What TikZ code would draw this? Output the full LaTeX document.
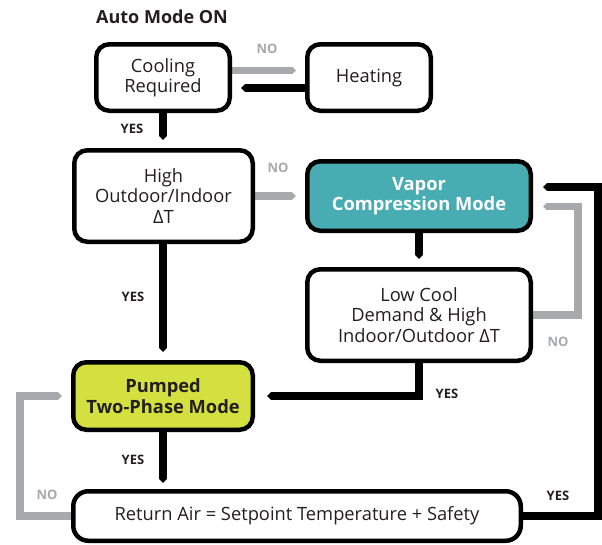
\documentclass[tikz,border=0pt]{standalone}
\usepackage{fontspec}
\setmainfont{Open Sans}
\usetikzlibrary{arrows.meta,backgrounds}
\definecolor{teal}{HTML}{47ADB3}
\definecolor{lime}{HTML}{D4E03F}
\definecolor{arrgray}{HTML}{A7A9AC}
\definecolor{txt}{HTML}{231F20}
\begin{document}
\begin{tikzpicture}[x=1pt,y=-1pt,
  box/.style={draw=black,line width=4.5pt,rounded corners=13pt,fill=white,
    align=center,text=txt,inner sep=0pt,font=\fontsize{18.3}{20.5}\selectfont},
  boldbox/.style={box,font=\fontsize{18.3}{20.5}\selectfont\bfseries},
  blackarrow/.style={line width=7.5pt,black,-{Triangle[length=4pt,width=7.5pt]}},
  grayarrow/.style={line width=7.5pt,arrgray,-{Triangle[length=4pt,width=7.5pt]}},
  lbl/.style={font=\fontsize{13}{15}\selectfont\bfseries,inner sep=0pt},
  yeslbl/.style={lbl,text=txt},
  nolbl/.style={lbl,text=arrgray}]
\useasboundingbox (0,0) rectangle (602,544);

\node[font=\fontsize{18}{21}\selectfont\bfseries,text=txt] (title) at (162,17) {Auto Mode ON};

\node[box,minimum width=133.5pt,minimum height=66.5pt] (cool) at (163,77.5) {Cooling\\Required};
\node[box,minimum width=123.5pt,minimum height=66.5pt] (heat) at (369,77.5) {Heating};
\node[box,minimum width=178.5pt,minimum height=91.5pt] (high) at (163.5,196) {High\\Outdoor/Indoor\\ΔT};
\node[boldbox,fill=teal,text=white,minimum width=223.5pt,minimum height=69.5pt] (vapor) at (419,196) {Vapor\\Compression Mode};
\node[box,minimum width=223.5pt,minimum height=91.5pt] (low) at (419,315) {Low Cool\\Demand \& High\\Indoor/Outdoor ΔT};
\node[boldbox,fill=lime,minimum width=179.5pt,minimum height=67.5pt] (pump) at (163,396) {Pumped\\Two-Phase Mode};
\node[box,rounded corners=15pt,minimum width=447.5pt,minimum height=49.5pt] (ret) at (297,516) {Return Air = Setpoint Temperature + Safety};

\begin{pgfonlayer}{background}
\draw[grayarrow,shorten >=9pt] ([yshift=7pt]cool.east) -- ([yshift=7pt]heat.west);
\draw[blackarrow,shorten >=9pt] ([yshift=-10.5pt]heat.west) -- ([yshift=-10.5pt]cool.east);
\draw[blackarrow,shorten >=8pt] (cool.south) -- (cool.south |- high.north);
\draw[grayarrow,shorten >=9pt] (high.east) -- (vapor.west |- high.east);
\draw[blackarrow,shorten >=8pt] (high.south -| pump.north) -- (pump.north);
\draw[blackarrow,shorten >=8pt] (vapor.south) -- (low.north);
\draw[grayarrow,shorten >=10pt] (low.east) -- (578,315) |- ([yshift=-10.5pt]vapor.east);
\draw[blackarrow,shorten >=10pt] (ret.east) -- (598,516) |- ([yshift=9pt]vapor.east);
\draw[blackarrow,shorten >=12pt] (low.south) |- (pump.east);
\draw[blackarrow,shorten >=6pt] (pump.south) -- (pump.south |- ret.north);
\draw[grayarrow,shorten >=9pt] (ret.west) -- (20,516) |- (pump.west);
\end{pgfonlayer}

\node[nolbl] (no1) at (267,49) {NO};
\node[nolbl] (no2) at (278,168) {NO};
\node[nolbl] (no3) at (558,342) {NO};
\node[nolbl] (no4) at (47,495) {NO};
\node[yeslbl] (yes1) at (132,129) {YES};
\node[yeslbl] (yes2) at (133,297) {YES};
\node[yeslbl] (yes3) at (447,394) {YES};
\node[yeslbl] (yes4) at (133,460) {YES};
\node[yeslbl] (yes5) at (558,496) {YES};
\end{tikzpicture}
\end{document}
